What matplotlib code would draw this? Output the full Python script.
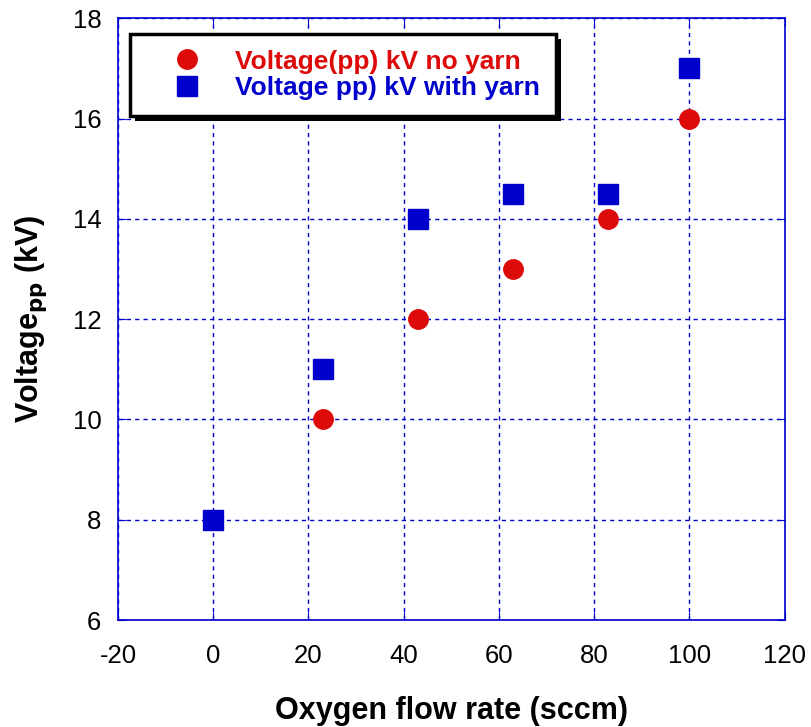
import matplotlib.pyplot as plt
import matplotlib.patheffects as pe
import numpy as np

# oxygen flow (sccm) vs peak-to-peak voltage (kV)
flow_no_yarn = [23, 43, 63, 83, 100]
volt_no_yarn = [10, 12, 13, 14, 16]
flow_yarn = [0, 23, 43, 63, 83, 100]
volt_yarn = [8, 11, 14, 14.5, 14.5, 17]

xticks = [-20, 0, 20, 40, 60, 80, 100, 120]
yticks = [6, 8, 10, 12, 14, 16, 18]

red = '#dd0a0a'
blue = '#0000cc'

plt.rcParams['font.family'] = ['Liberation Sans', 'DejaVu Sans']
plt.rcParams['axes.unicode_minus'] = False

fig = plt.figure(figsize=(8.11, 7.27), dpi=100)
ax = fig.add_axes([0.1455, 0.147, 0.822, 0.828])

ax.plot(flow_no_yarn, volt_no_yarn, 'o', color=red, markersize=14, mec=red,
        label='Voltage(pp) kV no yarn', zorder=3, clip_on=False)
ax.plot(flow_yarn, volt_yarn, 's', color=blue, markersize=14, mec=blue,
        label='Voltage pp) kV with yarn', zorder=3, clip_on=False)

ax.set_xlim(-20, 120)
ax.set_ylim(6, 18)
ax.set_xticks(xticks)
ax.set_yticks(yticks)
ax.grid(True, color=blue, linestyle=(0, (3, 3)), linewidth=1)
ax.set_axisbelow(True)

for s in ax.spines.values():
    s.set_color(blue)
    s.set_linewidth(1.2)
ax.tick_params(direction='in', top=True, right=True, length=6, color=blue,
               labelsize=18.5)
ax.tick_params(axis='x', pad=17)
ax.tick_params(axis='y', pad=12)

ax.set_xlabel('Oxygen flow rate (sccm)', fontsize=22, fontweight='bold', labelpad=20)
ax.set_ylabel(r'Voltage$_{\mathbf{pp}}$ (kV)', fontsize=22, fontweight='bold', labelpad=17)

leg = ax.legend(loc='upper left', bbox_to_anchor=(0.018, 0.974),
                prop={'weight': 'bold', 'size': 19}, frameon=True, fancybox=False,
                edgecolor='black', framealpha=1,
                handlelength=3.15, handletextpad=0.23, borderpad=0.6,
                labelspacing=0.1, borderaxespad=0)
frame = leg.get_frame()
frame.set_linewidth(2.5)
frame.set_path_effects([pe.SimplePatchShadow(offset=(3.5, -3.5), shadow_rgbFace='k', alpha=1),
                        pe.Normal()])
for txt, c in zip(leg.get_texts(), [red, blue]):
    txt.set_color(c)

fig.savefig('out.png', dpi=100)
